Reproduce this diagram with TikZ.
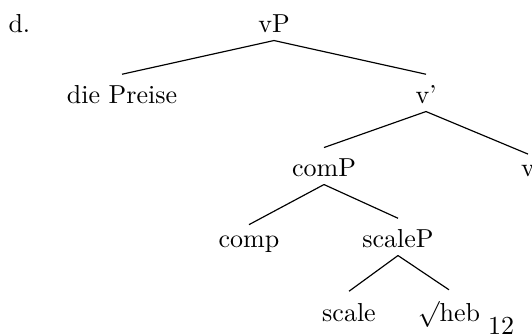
\documentclass[tikz,border=0pt]{standalone}
\begin{document}
\begin{tikzpicture}[x=0.3846pt,y=-0.3846pt,
  lbl/.style={inner sep=0pt,anchor=base},
  br/.style={line width=0.45pt}]
\useasboundingbox (0,0) rectangle (532,336);
% example label
\node[lbl,anchor=base west] (ex) at (8,33) {d.};
% tree nodes
\node[lbl] (vP)     at (274,33)  {vP};
\node[lbl] (dp)     at (122,104) {die Preise};
\node[lbl] (vbar)   at (426,104) {v'};
\node[lbl] (comP)   at (324,177) {comP};
\node[lbl] (v)      at (528,177) {v};
\node[lbl] (comp)   at (249,248) {comp};
\node[lbl] (scaleP) at (398,248) {scaleP};
\node[lbl] (scale)  at (349,321) {scale};
\node[lbl] (root)   at (449,321) {$\surd$heb};
\node[lbl] (num)    at (501,334) {12};
% branches
\newcommand\branch[2]{\draw[br] ([yshift=-2.9pt]#1.base) -- ([yshift=4.3pt]#2.north);}
\branch{vP}{dp}
\branch{vP}{vbar}
\branch{vbar}{comP}
\branch{vbar}{v}
\branch{comP}{comp}
\branch{comP}{scaleP}
\branch{scaleP}{scale}
\branch{scaleP}{root}
\end{tikzpicture}
\end{document}
